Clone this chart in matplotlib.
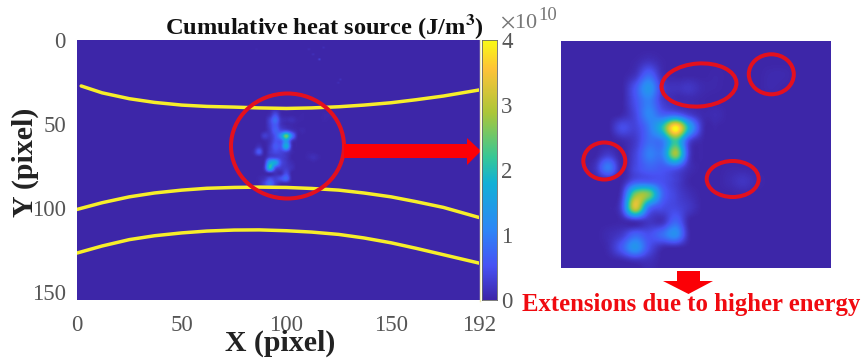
import numpy as np
import matplotlib
matplotlib.use("Agg")
import matplotlib.pyplot as plt
from matplotlib.colors import LinearSegmentedColormap
from matplotlib.patches import Ellipse, Polygon

plt.rcParams['font.family'] = ['Liberation Serif', 'DejaVu Serif']

# Boundary curves (pixel units of the image)
curve_x1 = [2, 12, 25, 37, 50, 62, 75, 87, 100, 112, 125, 137, 150, 162, 175, 192]
curve_y1 = [27.4, 31.5, 35, 37.2, 38.8, 39.6, 40, 40.5, 40.8, 40.5, 39.8, 38.8, 37.4, 35.6, 33.4, 29.8]
curve_x2 = [0, 12, 25, 37, 50, 62, 75, 87, 100, 112, 125, 137, 150, 162, 175, 192]
curve_y2 = [101, 97, 93.5, 91.2, 89.5, 88.4, 87.9, 87.7, 87.9, 88.5, 89.5, 91.2, 93.5, 96.4, 99.8, 105.8]
curve_y3 = [127, 122.8, 119, 116.7, 115, 113.9, 113.3, 113.2, 113.7, 114.5, 115.9, 118, 120.9, 124.2, 128, 133]

# Faint spots above the weld region (x, y, value in 1e10 J/m^3)
faint_x = [115, 112, 110, 117, 125, 124, 85]
faint_y = [11, 8, 5, 4, 23, 25, 5]
faint_v = [0.35, 0.15, 0.12, 0.12, 0.15, 0.12, 0.05]

# Heat source in the enlarged region, values in 1e10 J/m^3
heat_rows = [
    [0,0,0,0,0,0,0,0,0,0,0,0,0,0,0,0,0,0,0,0],
    [0,0,0,0,0,.03,.15,.03,0,0,0,0,0,0,0,0,0,0,0,0],
    [0,0,0,0,0,.15,.7,.1,0,0,0,.03,0,0,0,.05,.05,0,0,0],
    [0,0,0,0,0,.55,1.3,.3,.15,.2,.06,.03,0,0,0,.05,.02,0,0,0],
    [0,0,0,0,0,.5,1.0,.3,.1,.06,.02,0,0,0,0,0,0,0,0,0],
    [0,0,0,0,.05,.4,1.1,.7,.7,.3,.06,.08,0,0,0,0,0,0,0,0],
    [0,0,0,0,.45,.35,.9,2.0,4.0,1.7,.15,.02,0,0,0,0,0,0,0,0],
    [0,0,0,0,.05,.25,.8,.95,2.2,.4,.03,0,0,0,0,0,0,0,0,0],
    [0,0,0,.25,0,.35,1.0,1.0,2.8,.3,.02,0,0,0,0,0,0,0,0,0],
    [0,0,.15,.95,.02,.4,.7,.6,.6,.12,0,0,.03,.03,0,0,0,0,0,0],
    [0,0,0,.03,.03,.55,.6,.5,.3,.03,0,0,.08,.18,.06,0,0,0,0,0],
    [0,0,0,0,.25,2.6,2.6,.8,.35,.12,0,0,0,.03,0,0,0,0,0,0],
    [0,0,0,0,.4,3.2,.9,.45,.4,.2,0,0,0,0,0,0,0,0,0,0],
    [0,0,0,0,.03,.15,.2,.15,.7,.03,0,0,0,0,0,0,0,0,0,0],
    [0,0,0,.08,.25,.7,.5,.8,1.2,.08,0,0,0,0,0,0,0,0,0,0],
    [0,0,0,.08,.6,1.3,.5,.08,.03,0,0,0,0,0,0,0,0,0,0,0],
    [0,0,0,0,.02,.12,.12,0,0,0,0,0,0,0,0,0,0,0,0,0],
]
main_scale = 0.62

x_ticks = [0, 50, 100, 150, 192]
y_ticks = [0, 50, 100, 150]
cbar_ticks = [0, 1, 2, 3, 4]

W, H = 863, 363
parula = LinearSegmentedColormap.from_list("parula", [
    (0.00, (0.2422, 0.1504, 0.6603)),
    (0.13, (0.2810, 0.3228, 0.9579)),
    (0.27, (0.1786, 0.5289, 0.9682)),
    (0.45, (0.0689, 0.6948, 0.8394)),
    (0.55, (0.2161, 0.7843, 0.5923)),
    (0.72, (0.6720, 0.7793, 0.2227)),
    (0.89, (0.9970, 0.7659, 0.2199)),
    (1.00, (0.9769, 0.9839, 0.0805))])


def box(x0, y0, x1, y1):
    return [x0 / W, 1 - y1 / H, (x1 - x0) / W, (y1 - y0) / H]


fig = plt.figure(figsize=(W / 100, H / 100), dpi=100)
gray = '#555555'
heat = np.array(heat_rows, dtype=float)

ax = fig.add_axes(box(77, 40, 479, 300))
base = np.zeros((155, 192))
for fx, fy, fv in zip(faint_x, faint_y, faint_v):
    base[fy, fx] = fv
ax.imshow(base, cmap=parula, vmin=0, vmax=4, aspect='auto',
          extent=(0, 192, 155, 0), interpolation='bilinear')
ax.imshow(heat * main_scale, cmap=parula, vmin=0, vmax=4, aspect='auto',
          extent=(78, 129.6, 90.9, 36.7), interpolation='catrom')
for cx, cy in [(curve_x1, curve_y1), (curve_x2, curve_y2), (curve_x2, curve_y3)]:
    ax.plot(cx, cy, color='#f7ee2a', lw=2.5, solid_capstyle='round')
ax.set_xlim(0, 192)
ax.set_ylim(155, 0)
ax.set_xticks(x_ticks)
ax.set_yticks(y_ticks)
ax.tick_params(length=0, labelsize=16.5, labelcolor=gray)
ax.tick_params(axis='x', pad=11)
ax.tick_params(axis='y', pad=8)
for s in ax.spines.values():
    s.set_visible(False)
ax.set_xlabel('X (pixel)', fontsize=21.5, fontweight='bold', color='#222222')
ax.set_ylabel('Y (pixel)', fontsize=21.5, fontweight='bold', color='#222222')
trans = fig.transFigure
ax.xaxis.set_label_coords(280 / W, 1 - 343 / H, transform=trans)
ax.xaxis.label.set_verticalalignment('center')
ax.yaxis.set_label_coords(25 / W, 1 - 162 / H, transform=trans)
ax.yaxis.label.set_verticalalignment('center')

cax = fig.add_axes(box(482, 40, 497, 300))
grad = np.linspace(4, 0, 256).reshape(-1, 1)
cax.imshow(grad, cmap=parula, vmin=0, vmax=4, aspect='auto', extent=(0, 1, 0, 4))
cax.set_xticks([])
cax.yaxis.tick_right()
cax.set_yticks(cbar_ticks)
cax.tick_params(length=0, labelsize=16.5, labelcolor=gray, pad=3)
for s in cax.spines.values():
    s.set_linewidth(0.6)
    s.set_color('#666666')

axi = fig.add_axes(box(561, 41, 830, 268))
axi.imshow(heat, cmap=parula, vmin=0, vmax=4, aspect='auto', interpolation='catrom')
axi.axis('off')

ov = fig.add_axes([0, 0, 1, 1], zorder=5)
ov.set_xlim(0, W)
ov.set_ylim(H, 0)
ov.axis('off')
ov.patch.set_alpha(0)
red = '#e3101e'
ov.plot([480, 480], [40, 301], color='#f2eeb0', lw=1)
ov.add_patch(Ellipse((287.5, 146), 113, 105, fill=False, ec=red, lw=2.9))
for (ex, ey, ew, eh, ang) in [(699, 85, 75, 43, -4), (771.3, 74.3, 45, 40, 0),
                              (604.3, 161, 42, 37, 0), (732.7, 179, 52, 36, 0)]:
    ov.add_patch(Ellipse((ex, ey), ew, eh, angle=ang, fill=False, ec=red, lw=2.9))
ov.add_patch(Polygon([(344, 144), (467, 144), (467, 138), (481, 151), (467, 165),
                      (467, 158), (344, 158)], closed=True, fc='#fb0006', ec='none'))
ov.add_patch(Polygon([(677, 271), (700, 271), (700, 281), (713, 281), (688.5, 294),
                      (663, 281), (677, 281)], closed=True, fc='#fb0006', ec='none'))
ov.text(324, 27, 'Cumulative heat source (J/m$^{\\mathbf{3}}$)', ha='center', va='center',
        fontsize=17.6, fontweight='bold', color='#111111', math_fontfamily='stix')
ov.text(500, 24, '$\\times$10', ha='left', va='center', fontsize=16, color='#777777', math_fontfamily='stix')
ov.text(538, 15, '10', ha='left', va='center', fontsize=13.5, color='#777777')
ov.text(691.5, 304, 'Extensions due to higher energy', ha='center', va='center',
        fontsize=17.8, fontweight='bold', color='#f00a10')

fig.savefig('out.png', dpi=100)
